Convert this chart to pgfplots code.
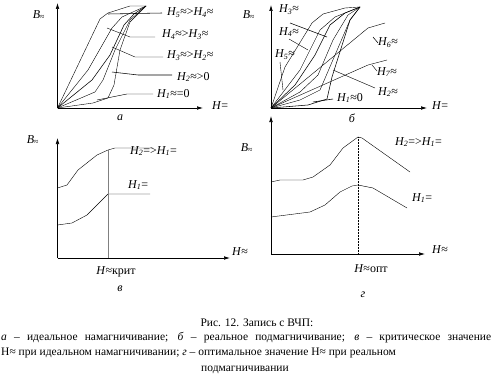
\documentclass[border=0pt]{standalone}
\usepackage{fontspec}
\setmainfont{Liberation Serif}
\usepackage{pgfplots}
\pgfplotsset{compat=1.18}
\usetikzlibrary{arrows.meta}
\newcommand{\Hs}[1]{\textit{H\textsubscript{#1}}}
\newcommand{\Bz}{\textit{B}\textsubscript{≈}}
\pgfplotsset{panel/.style={x=1pt,y=1pt,axis lines=left,
  axis line style={line width=0.6pt,-{Latex[length=6pt,width=3.6pt]}},
  ticks=none, clip=false, anchor=south west,
  cycle list={{black,solid,line width=0.55pt}},
  every axis plot/.append style={no marks},
  nodes={font=\fontsize{12}{14}\selectfont, inner sep=0pt}}}
\begin{document}
\begin{tikzpicture}
\path (0,0) rectangle (492pt,381pt);
% ---------- panel a ----------
\begin{axis}[panel, at={(57.5pt,273pt)}, xmin=57.5, xmax=203, ymin=273, ymax=378]
\addplot coordinates {(57.5,273) (100,362) (108,368) (130,375) (146,375)};
\addplot coordinates {(57.5,273) (88,311) (112,353) (122,364) (146,375)};
\addplot coordinates {(57.5,273) (92,301) (110,326) (124,356) (134,367) (146,375)};
\addplot coordinates {(57.5,273) (95,289) (103,301) (115,331) (130,361) (146,375)};
\addplot coordinates {(57.5,273) (93,278) (108,283) (114,296) (120,331) (130,359) (146,375)};
\addplot coordinates {(108,367) (162,368)};
\addplot coordinates {(107,353) (130,344) (155,344)};
\addplot coordinates {(112,334) (135,324) (163,324)};
\addplot coordinates {(112,309) (138,306) (172,306)};
\addplot coordinates {(97,281) (127,287) (153,287)};
\node[anchor=west] at (axis cs:167,368) {\Hs{5}≈>\Hs{4}≈};
\node[anchor=west] at (axis cs:162,346) {\Hs{4}≈>\Hs{3}≈};
\node[anchor=west] at (axis cs:167,325) {\Hs{3}≈>\Hs{2}≈};
\node[anchor=west] at (axis cs:177,304) {\Hs{2}≈>0};
\node[anchor=west] at (axis cs:157,287) {\Hs{1}≈=0};
\node[anchor=west] at (axis cs:212,275) {\textit{H}=};
\node at (axis cs:39,366) {\Bz};
\node at (axis cs:120,263) {\textit{а}};
\end{axis}
% ---------- panel b ----------
\begin{axis}[panel, at={(271pt,273pt)}, xmin=271, xmax=427, ymin=273, ymax=376]
\addplot coordinates {(271,273) (285,314) (312,358) (323,367) (345,373) (360,374)};
\addplot coordinates {(271,273) (300,311) (320,351) (335,364) (360,374)};
\addplot coordinates {(271,273) (295,296) (315,326) (330,356) (345,368) (360,374)};
\addplot coordinates {(271,273) (300,289) (318,306) (333,341) (348,366) (360,374)};
\addplot coordinates {(271,273) (300,281) (320,291) (335,326) (350,361) (360,374)};
\addplot coordinates {(271,273) (308,276) (327,282) (332,304) (350,361) (360,374)};
\addplot coordinates {(271,273) (368,353) (385,358)};
\addplot coordinates {(271,273) (368,316) (387,321)};
\addplot coordinates {(290,358) (327,344)};
\addplot coordinates {(289,342) (308,331)};
\addplot coordinates {(280,319) (283,291)};
\addplot coordinates {(373,344) (378,338)};
\addplot coordinates {(372,316) (377,310)};
\addplot coordinates {(333,311) (375,293)};
\addplot coordinates {(313,279) (333,282)};
\node[anchor=west] at (axis cs:279,371) {\Hs{3}≈};
\node[anchor=west] at (axis cs:279,349) {\Hs{4}≈};
\node[anchor=west] at (axis cs:275,326) {\Hs{5}≈};
\node[anchor=west] at (axis cs:378,338) {\Hs{6}≈};
\node[anchor=west] at (axis cs:377,309) {\Hs{7}≈};
\node[anchor=west] at (axis cs:378,289) {\Hs{2}≈};
\node[anchor=west] at (axis cs:337,283) {\Hs{1}≈0};
\node[anchor=west] at (axis cs:432,275) {\textit{H}=};
\node at (axis cs:249,366) {\Bz};
\node at (axis cs:352,263) {\textit{б}};
\end{axis}
% ---------- panel v ----------
\begin{axis}[panel, at={(57.5pt,123pt)}, xmin=57.5, xmax=230, ymin=123, ymax=243]
\addplot coordinates {(57.5,193) (67,196) (78,211) (97,226) (108,231) (115,233) (153,233)};
\addplot coordinates {(57.5,156) (72,158) (87,166) (100,179) (108,187) (150,187)};
\addplot[gray, line width=0.5pt] coordinates {(108,231) (108,123)};
\node at (axis cs:33,241) {\Bz};
\node[anchor=west] at (axis cs:130,230) {\Hs{2}=>\Hs{1}=};
\node[anchor=west] at (axis cs:128,196) {\Hs{1}=};
\node[anchor=west] at (axis cs:232,129) {\textit{H}≈};
\node at (axis cs:116,109) {\textit{H}≈крит};
\node at (axis cs:120,92) {\textit{в}};
\end{axis}
% ---------- panel g ----------
\begin{axis}[panel, at={(271pt,127pt)}, xmin=271, xmax=425, ymin=127, ymax=265]
\addplot coordinates {(271,199) (280,201) (303,201) (313,204) (330,216) (343,233) (358,244) (362,243) (410,209)};
\addplot coordinates {(271,164) (310,169) (325,176) (340,189) (352,195) (358,196) (373,193) (407,173)};
\addplot[black, densely dotted, line width=0.5pt] coordinates {(358,244) (358,127)};
\node at (axis cs:247,233) {\Bz};
\node[anchor=west] at (axis cs:395,239) {\Hs{2}=>\Hs{1}=};
\node[anchor=west] at (axis cs:412,183) {\Hs{1}=};
\node[anchor=west] at (axis cs:432,131) {\textit{H}≈};
\node at (axis cs:371,112) {\textit{H}≈опт};
\node at (axis cs:363,86) {\textit{г}};
\end{axis}
% ---------- caption ----------
\begin{scope}[every node/.style={font=\fontsize{11.5}{14}\selectfont, inner sep=0pt}]
\node at (257pt,58pt) {Рис. 12. Запись с ВЧП:};
\node[anchor=west] at (1pt,43pt) {\makebox[490pt][s]{\textit{а} – идеальное намагничивание; \textit{б} – реальное подмагничивание; \textit{в} – критическое значение}};
\node[anchor=west] at (1pt,28pt) {Н≈ при идеальном намагничивании; \textit{г} – оптимальное значение Н≈ при реальном};
\node at (245pt,11pt) {подмагничивании};
\end{scope}
\end{tikzpicture}
\end{document}
